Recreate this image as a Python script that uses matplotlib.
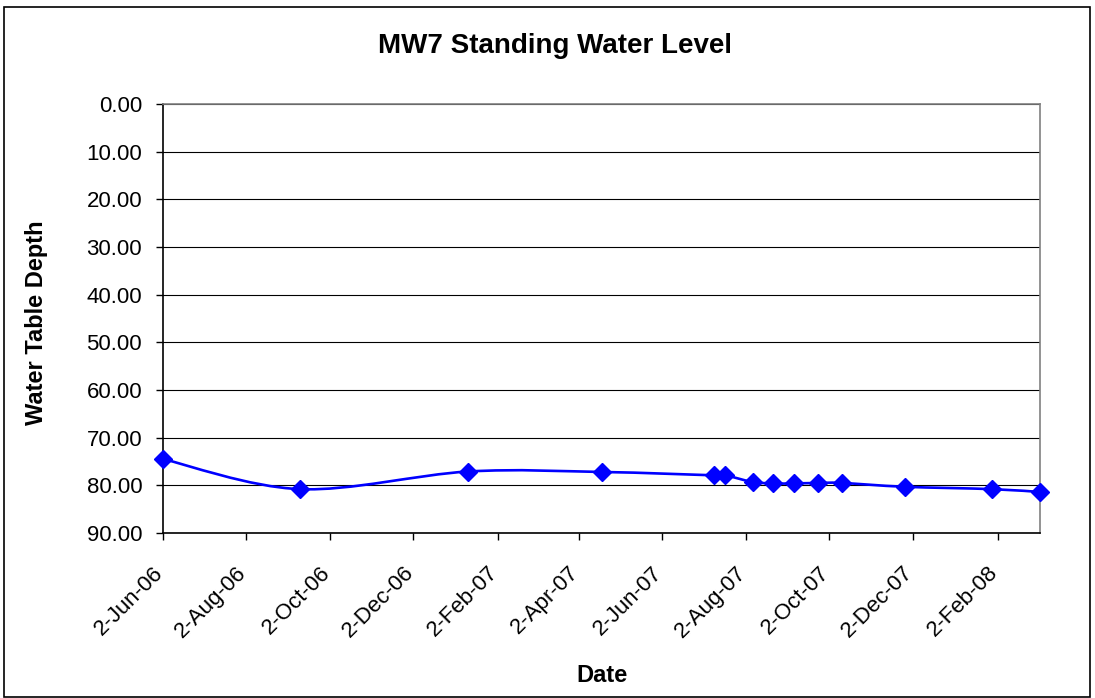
import matplotlib
matplotlib.use("Agg")
import matplotlib.pyplot as plt
import matplotlib.dates as mdates
from matplotlib.path import Path
from matplotlib.patches import PathPatch, Rectangle
from matplotlib.transforms import ScaledTranslation
from datetime import datetime

plt.rcParams['font.family'] = ['Liberation Sans', 'DejaVu Sans']

# readings (date, depth below top of casing)
dates = ['2006-06-02', '2006-09-10', '2007-01-11', '2007-04-19', '2007-07-10',
         '2007-07-18', '2007-08-07', '2007-08-22', '2007-09-06', '2007-09-24',
         '2007-10-11', '2007-11-26', '2008-01-29', '2008-03-04']
depth = [74.5, 80.8, 77.1, 77.2, 77.9, 77.9, 79.3, 79.6, 79.6, 79.5,
         79.5, 80.3, 80.8, 81.4]

tick_dates = ['2006-06-02', '2006-08-02', '2006-10-02', '2006-12-02', '2007-02-02',
              '2007-04-02', '2007-06-02', '2007-08-02', '2007-10-02', '2007-12-02',
              '2008-02-02']
tick_labels = ['2-Jun-06', '2-Aug-06', '2-Oct-06', '2-Dec-06', '2-Feb-07', '2-Apr-07',
               '2-Jun-07', '2-Aug-07', '2-Oct-07', '2-Dec-07', '2-Feb-08']
y_ticks = [0, 10, 20, 30, 40, 50, 60, 70, 80, 90]

xs = [mdates.date2num(datetime.strptime(d, '%Y-%m-%d')) for d in dates]
xt = [mdates.date2num(datetime.strptime(d, '%Y-%m-%d')) for d in tick_dates]

fig = plt.figure(figsize=(10.95, 6.98), dpi=100)
ax = fig.add_axes([163/1095, 1 - 533/698, (1040 - 163)/1095, (533 - 104)/698])

# excel-like smoothed line (bezier through the readings)
verts = [(xs[0], depth[0])]
codes = [Path.MOVETO]
n = len(xs)
for i in range(n - 1):
    x0, y0 = (xs[i - 1], depth[i - 1]) if i > 0 else (xs[i], depth[i])
    x1, y1 = xs[i], depth[i]
    x2, y2 = xs[i + 1], depth[i + 1]
    x3, y3 = (xs[i + 2], depth[i + 2]) if i + 2 < n else (x2, y2)
    verts += [(x1 + (x2 - x0) / 6, y1 + (y2 - y0) / 6),
              (x2 - (x3 - x1) / 6, y2 - (y3 - y1) / 6),
              (x2, y2)]
    codes += [Path.CURVE4] * 3
ax.add_patch(PathPatch(Path(verts, codes), facecolor='none', edgecolor='#0000ff',
                       lw=1.9, transform=ax.transData, clip_on=False, zorder=3))
ax.plot(xs, depth, linestyle='none', marker='D', markersize=9, color='#0000ff',
        clip_on=False, zorder=4)

ax.set_xlim(xs[0], xs[-1])
ax.set_ylim(90, 0)
ax.set_yticks(y_ticks)
ax.set_yticklabels(['%.2f' % v for v in y_ticks], fontsize=16)
ax.set_xticks(xt)
ax.set_xticklabels(tick_labels, rotation=45, ha='right', rotation_mode='anchor', fontsize=16)
ax.tick_params(axis='both', length=5, width=1, color='black')
ax.tick_params(axis='y', pad=10)
ax.tick_params(axis='x', pad=16)
shift = ScaledTranslation(-10.5/100, 0, fig.dpi_scale_trans)
for lab in ax.get_xticklabels():
    lab.set_transform(lab.get_transform() + shift)
ax.yaxis.grid(True, color='black', lw=0.8)
ax.set_axisbelow(True)
for s in ['top', 'right']:
    ax.spines[s].set_color('#808080')
    ax.spines[s].set_linewidth(1.2)
for s in ['left', 'bottom']:
    ax.spines[s].set_color('black')
    ax.spines[s].set_linewidth(1.2)

fig.text(555/1095, 1 - 46/698, 'MW7 Standing Water Level', ha='center', va='center',
         fontsize=20, fontweight='bold')
fig.text(37/1095, 1 - 323/698, 'Water Table Depth', ha='center', va='center',
         rotation=90, fontsize=17, fontweight='bold')
fig.text(602/1095, 1 - 675/698, 'Date', ha='center', va='center',
         fontsize=17, fontweight='bold')

fig.patches.append(Rectangle((4/1095, 1/698), 1086/1095, 690/698, transform=fig.transFigure,
                             fill=False, edgecolor='black', lw=1.2))

fig.savefig('out.png', dpi=100)
